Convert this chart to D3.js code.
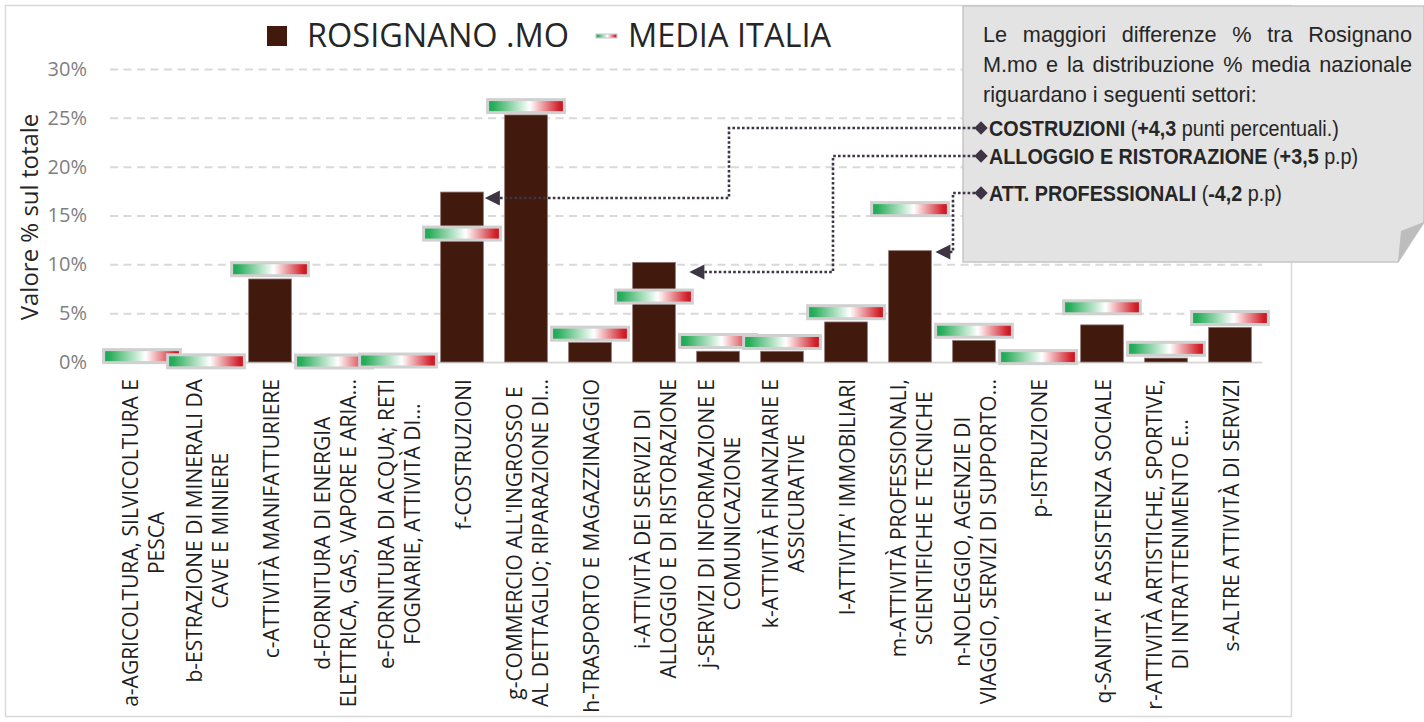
<!DOCTYPE html>
<html><head><meta charset="utf-8">
<script src="https://cdn.jsdelivr.net/npm/d3@7"></script>
<style>body{margin:0;background:#fff} svg{display:block}</style>
</head><body><svg id="c" width="1424" height="722"></svg>
<script>
// ---------------- DATA ----------------
const categories = ["a","b","c","d","e","f","g","h","i","j","k","l","m","n","p","q","r","s"];
const categoryLabels = [
  ["a-AGRICOLTURA, SILVICOLTURA E","PESCA"],
  ["b-ESTRAZIONE DI MINERALI DA","CAVE E MINIERE"],
  ["c-ATTIVITÀ MANIFATTURIERE"],
  ["d-FORNITURA DI ENERGIA","ELETTRICA, GAS, VAPORE E ARIA…"],
  ["e-FORNITURA DI ACQUA; RETI","FOGNARIE, ATTIVITÀ DI…"],
  ["f-COSTRUZIONI"],
  ["g-COMMERCIO ALL'INGROSSO E","AL DETTAGLIO; RIPARAZIONE DI…"],
  ["h-TRASPORTO E MAGAZZINAGGIO"],
  ["i-ATTIVITÀ DEI SERVIZI DI","ALLOGGIO E DI RISTORAZIONE"],
  ["j-SERVIZI DI INFORMAZIONE E","COMUNICAZIONE"],
  ["k-ATTIVITÀ FINANZIARIE E","ASSICURATIVE"],
  ["l-ATTIVITA' IMMOBILIARI"],
  ["m-ATTIVITÀ PROFESSIONALI,","SCIENTIFICHE E TECNICHE"],
  ["n-NOLEGGIO, AGENZIE DI","VIAGGIO, SERVIZI DI SUPPORTO…"],
  ["p-ISTRUZIONE"],
  ["q-SANITA' E ASSISTENZA SOCIALE"],
  ["r-ATTIVITÀ ARTISTICHE, SPORTIVE,","DI INTRATTENIMENTO E…"],
  ["s-ALTRE ATTIVITÀ DI SERVIZI"]
];
const rosignano   = [0.2, 0.0, 8.5, 0.0, 0.0, 17.4, 25.3, 2.0, 10.2, 1.1, 1.1, 4.1, 11.4, 2.2, 0.3, 3.8, 0.4, 3.55];
const mediaItalia = [0.6, 0.07, 9.5, 0.05, 0.15, 13.15, 26.2, 2.9, 6.7, 2.15, 2.05, 5.1, 15.65, 3.2, 0.5, 5.6, 1.35, 4.5];
const yTicks = [0, 5, 10, 15, 20, 25, 30];
const seriesNames = ["ROSIGNANO .MO", "MEDIA ITALIA"];
const yTitle = "Valore % sul totale";
const calloutIntro = [
  ["Le","maggiori","differenze","%","tra","Rosignano"],
  ["M.mo","e","la","distribuzione","%","media","nazionale"],
  ["riguardano i seguenti settori:"]
];
const calloutItems = [
  {cat:"f", name:"COSTRUZIONI", delta:"+4,3", unit:" punti percentuali.)"},
  {cat:"i", name:"ALLOGGIO E RISTORAZIONE", delta:"+3,5", unit:" p.p)"},
  {cat:"m", name:"ATT. PROFESSIONALI", delta:"-4,2", unit:" p.p)"}
];

// ---------------- LAYOUT ----------------
const svg = d3.select("#c");
const plot = {left:110, right:1262, top:69, bottom:362};
const barColor = "#42190d";
const textColor = "#262626";
const lineColor = "#3d3444";
const chartFont = "'Open Sans', 'Noto Sans', sans-serif";
const boxFont = "'Liberation Sans', Arial, sans-serif";

const x = d3.scaleBand().domain(categories).range([plot.left, plot.right])
  .paddingInner(0.333).paddingOuter(0.1665);
const y = d3.scaleLinear().domain([0, 30]).range([plot.bottom, plot.top]);
const bw = x.bandwidth();

// defs
const defs = svg.append("defs");
const grad = defs.append("linearGradient").attr("id","mg").attr("x1","0").attr("x2","1").attr("y1","0").attr("y2","0");
[[0,"#18a951"],[0.08,"#2aae5c"],[0.55,"#ffffff"],[0.93,"#d2222c"],[1,"#c9121d"]]
  .forEach(([o,c]) => grad.append("stop").attr("offset", o).attr("stop-color", c));

// chart border
svg.append("rect").attr("x",5.5).attr("y",5.5).attr("width",1286).attr("height",711)
  .attr("fill","#fff").attr("stroke","#d9d9d9").attr("stroke-width",1.5);

// y axis + gridlines
const yAxis = d3.axisLeft(y).tickValues(yTicks).tickSize(-(plot.right - plot.left))
  .tickPadding(23).tickFormat(d => d + "%");
const gy = svg.append("g").attr("transform", `translate(${plot.left},0)`).call(yAxis);
gy.select(".domain").remove();
gy.selectAll(".tick line")
  .attr("stroke", "#d9d9d9").attr("stroke-width", 2)
  .attr("stroke-dasharray", d => d === 0 ? null : "8,5.5");
gy.selectAll(".tick text")
  .attr("fill", "#7f7f7f").style("font-family", chartFont).style("font-size", "20px");

// y title
svg.append("text").attr("transform", `translate(38,217) rotate(-90)`)
  .attr("text-anchor","middle").attr("fill", textColor)
  .style("font-family", chartFont).style("font-size","24px").text(yTitle);

// bars
svg.append("g").selectAll("rect").data(categories).join("rect")
  .attr("x", d => x(d)).attr("width", bw)
  .attr("y", (d,i) => y(rosignano[i]))
  .attr("height", (d,i) => y(0) - y(rosignano[i]))
  .attr("fill", barColor).attr("stroke", "#8c7470").attr("stroke-width", 0.8);

// markers (media Italia)
const mW = x.step() * 1.2, mH = 13;
svg.append("g").selectAll("rect").data(categories).join("rect")
  .attr("x", d => x(d) + bw/2 - mW/2).attr("width", mW)
  .attr("y", (d,i) => y(mediaItalia[i]) - mH/2).attr("height", mH)
  .attr("fill", "url(#mg)").attr("stroke", "#d0d0d0").attr("stroke-width", 3);

// x labels
const lineGap = 25.5;
const gx = svg.append("g");
categories.forEach((c, i) => {
  const lines = categoryLabels[i];
  const g = gx.append("g").attr("transform", `translate(${x(c) + bw/2 + 1.5},379) rotate(-90)`);
  const ts = lines.map((l, k) => g.append("text")
    .attr("text-anchor","middle").attr("fill", "#1f1f1f")
    .style("font-family", chartFont).style("font-size","21px")
    .attr("y", (k - (lines.length - 1) / 2) * lineGap).attr("dy","0.36em").text(l));
  const maxW = d3.max(ts, t => t.node().getComputedTextLength());
  ts.forEach(t => t.attr("x", -maxW / 2));
});

// legend
svg.append("rect").attr("x",267).attr("y",26).attr("width",20).attr("height",20).attr("fill",barColor);
svg.append("text").attr("x",307).attr("y",46.5).attr("fill",textColor)
  .style("font-family",chartFont).style("font-size","32.5px").text(seriesNames[0]);
svg.append("rect").attr("x",596).attr("y",34).attr("width",21).attr("height",4)
  .attr("fill","url(#mg)").attr("stroke","#d0d0d0").attr("stroke-width",1.2);
svg.append("text").attr("x",628).attr("y",46.5).attr("fill",textColor)
  .style("font-family",chartFont).style("font-size","32.5px").text(seriesNames[1]);

// callout box
const box = {x0:963, y0:6, x1:1424, y1:262};
svg.append("path")
  .attr("d", `M${box.x0},${box.y0} H${box.x1} V222 L1398,${box.y1} H${box.x0} Z`)
  .attr("fill","#e3e3e3").attr("stroke","#c6c6c6").attr("stroke-width",1.5);
svg.append("path").attr("d", `M1398,${box.y1} L1424,222 L1401,231 Z`).attr("fill","#bdbdbd");

// justified intro lines
const tx0 = 983, tx1 = 1412;
const introBase = [42, 72, 102];
calloutIntro.forEach((words, li) => {
  const ts = words.map(w => svg.append("text").attr("y", introBase[li]).attr("fill", textColor)
    .style("font-family", boxFont).style("font-size","21.7px").text(w));
  if (words.length === 1) { ts[0].attr("x", tx0); return; }
  const ws = ts.map(t => t.node().getComputedTextLength());
  const gap = (tx1 - tx0 - d3.sum(ws)) / (words.length - 1);
  let cx = tx0;
  ts.forEach((t, k) => { t.attr("x", cx); cx += ws[k] + gap; });
});

// bullet items + connectors
const itemBase = [135.5, 163.5, 200.5];
const connectorLayout = [
  {elbowX:729, tipDx:1.5, tipY:198},
  {elbowX:833, tipDx:14, tipY:272},
  {elbowX:953, tipDx:4, tipY:252}
];
calloutItems.forEach((it, k) => {
  const by = itemBase[k];
  const rowY = by - 7.5;
  const lay = connectorLayout[k];
  const tipX = x(it.cat) + bw + lay.tipDx;
  svg.append("path")
    .attr("d", `M975,${rowY} H${lay.elbowX} V${lay.tipY} H${tipX + 12}`)
    .attr("fill","none").attr("stroke",lineColor).attr("stroke-width",2.6)
    .attr("stroke-dasharray","2.6,2.2");
  svg.append("path")
    .attr("d", `M${tipX},${lay.tipY} L${tipX + 15},${lay.tipY - 7.5} L${tipX + 15},${lay.tipY + 7.5} Z`)
    .attr("fill", lineColor);
  svg.append("path").attr("d", d3.symbol(d3.symbolSquare, 90)())
    .attr("transform", `translate(981,${rowY}) rotate(45)`).attr("fill", lineColor);
  const t = svg.append("text").attr("transform", `translate(989,${by}) scale(0.92,1)`).attr("fill", textColor)
    .style("font-family", boxFont).style("font-size","21.5px");
  t.append("tspan").attr("font-weight","bold").text(it.name);
  t.append("tspan").text(" (");
  t.append("tspan").attr("font-weight","bold").text(it.delta);
  t.append("tspan").text(it.unit);
});
</script></body></html>
